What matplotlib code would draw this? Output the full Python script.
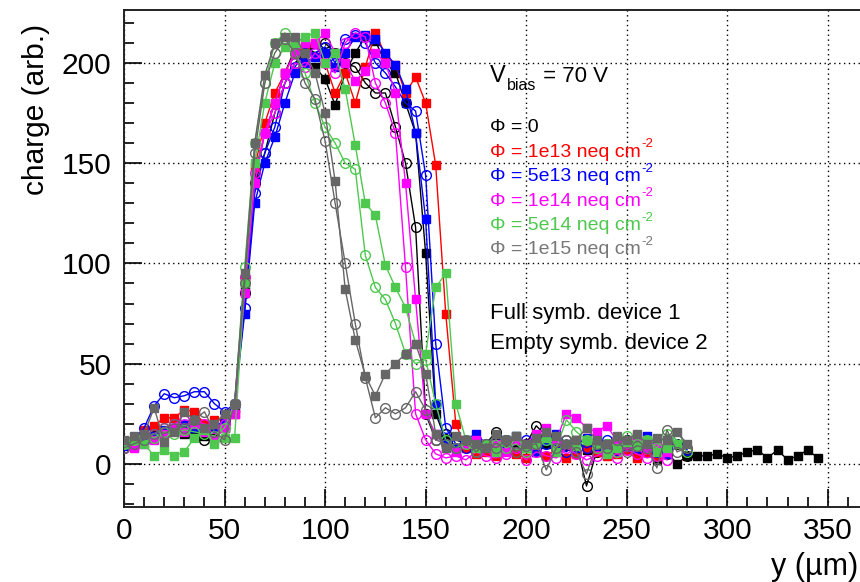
import matplotlib
matplotlib.use("Agg")
import matplotlib.pyplot as plt
from matplotlib.ticker import MultipleLocator

plt.rcParams["font.family"] = ["Liberation Sans", "DejaVu Sans"]

# scan positions along y (um)
y_pos = [0, 5, 10, 15, 20, 25, 30, 35, 40, 45, 50, 55, 60, 65, 70, 75, 80, 85, 90, 95,
         100, 105, 110, 115, 120, 125, 130, 135, 140, 145, 150, 155, 160, 165, 170, 175,
         180, 185, 190, 195, 200, 205, 210, 215, 220, 225, 230, 235, 240, 245, 250, 255,
         260, 265, 270, 275, 280, 285, 290, 295, 300, 305, 310, 315, 320, 325, 330, 335,
         340, 345]

# collected charge, device 1 (filled) and device 2 (empty)
q_0_d1 = [10, 9, 12, 14, 16, 18, 15, 17, 14, 13, 18, 28, 88, 142, 165, 180, 195, 207, 200, 198,
          192, 179, 195, 205, 213, 211, 200, 195, 180, 165, 105, 25, 12, 8, 10, 6,
          9, 12, 7, 10, 8, 14, 10, 6, 9, 12, 7, 10, 9, 8, 11, 6,
          9, 2, 6, 0, 4, 4, 4, 5, 3, 4, 6, 7, 3, 7, 2, 4, 7, 3]
q_0_d2 = [8, 10, 12, 14, 15, 17, 16, 14, 12, 15, 22, 30, 85, 140, 155, 175, 190, 200, 205, 208,
          210, 205, 200, 198, 190, 185, 185, 168, 150, 118, 25, 12, 15, 12, 10, 8,
          10, 16, 12, 8, 10, 19, 14, 8, 12, 10, -11, 6, 10, 8, 12, 9,
          6, 8, 5, 10, 4]
q_1e13_d1 = [10, 10, 17, 19, 23, 23, 27, 26, 20, 22, 22, 25, 92, 148, 170, 185, 195, 205, 208, 210,
             200, 185, 195, 180, 198, 215, 204, 199, 185, 193, 180, 149, 75, 20, 8, 5,
             6, 4, 8, 5, 3, 6, 4, 7, 3, 5, 8, 6, 4, 5, 7, 3,
             6, 4, 5]
q_5e13_d1 = [9, 10, 12, 14, 17, 18, 20, 18, 17, 18, 22, 30, 75, 130, 150, 163, 180, 195, 200, 203,
             205, 198, 205, 213, 214, 212, 205, 199, 187, 165, 122, 30, 10, 8, 12, 15,
             10, 6, 12, 14, 9, 6, 12, 15, 10, 8, 13, 9, 6, 12, 10, 8,
             14, 6, 5]
q_5e13_d2 = [10, 12, 18, 29, 35, 33, 34, 36, 36, 30, 26, 30, 78, 135, 155, 168, 190, 198, 205, 205,
             208, 200, 212, 214, 210, 200, 195, 188, 180, 176, 144, 60, 18, 10, 8, 12,
             9, 11, 7, 10, 12, 8, 10, 9, 6, 11, 8, 10, 12, 7, 9, 8,
             10, 6, 8, 12, 7]
q_1e14_d1 = [10, 8, 10, 12, 15, 18, 16, 20, 16, 12, 18, 25, 85, 140, 165, 180, 195, 205, 210, 210,
             215, 205, 200, 191, 196, 205, 200, 185, 140, 82, 25, 15, 8, 6, 10, 12,
             8, 10, 6, 12, 10, 15, 18, 12, 25, 23, 18, 16, 19, 12, 10, 14,
             8, 10, 6]
q_1e14_d2 = [8, 9, 12, 15, 18, 20, 22, 21, 20, 18, 20, 30, 93, 145, 165, 175, 190, 200, 198, 205,
             200, 195, 210, 215, 213, 190, 180, 165, 98, 25, 12, 5, 3, 4, 2, 6,
             4, 3, 5, 8, 2, 6, 4, 3, 8, 5, 2, 4, 6, 3, 7, 5,
             3, 4, 2]
q_5e14_d1 = [10, 12, 10, 4, 7, 4, 6, 13, 17, 10, 13, 13, 90, 150, 180, 200, 208, 210, 213, 215,
             200, 205, 187, 159, 130, 124, 99, 88, 78, 60, 55, 88, 95, 30, 12, 8,
             10, 6, 12, 14, 8, 10, 13, 6, 10, 9, 12, 10, 5, 8, 11, 9,
             12, 6, 8, 10]
q_5e14_d2 = [10, 12, 14, 13, 16, 15, 17, 16, 15, 14, 18, 30, 98, 160, 190, 210, 215, 205, 195, 180,
             168, 160, 150, 147, 104, 88, 82, 70, 55, 50, 52, 30, 12, 8, 10, 6,
             9, 12, 8, 10, 6, 10, 12, 8, 22, 16, 12, 8, 10, 6, 14, 10,
             12, 8, 15, 12, 6]
q_1e15_d1 = [12, 14, 15, 28, 11, 16, 26, 22, 18, 20, 25, 30, 95, 160, 194, 210, 213, 213, 205, 195,
             175, 141, 87, 62, 44, 34, 45, 50, 55, 60, 45, 15, 8, 14, 12, 10,
             8, 15, 12, 14, 10, 13, 16, 14, 10, 12, 18, 12, 10, 14, 12, 15,
             10, 13, 12, 16, 10]
q_1e15_d2 = [8, 10, 12, 15, 18, 20, 18, 22, 26, 16, 12, 30, 90, 155, 190, 205, 212, 205, 190, 182,
             161, 130, 100, 70, 43, 23, 28, 25, 28, 36, 27, 12, 10, 8, 12, 6,
             10, 8, 12, 6, 9, 10, -3, 8, 12, 6, -5, 10, 8, 12, 6, 9,
             8, -2, 17, 6, 8]

series = [
    (q_0_d1, "black", "s"), (q_0_d2, "black", "o"),
    (q_1e13_d1, "#ff0000", "s"),
    (q_5e13_d1, "#0000ff", "s"), (q_5e13_d2, "#0000ff", "o"),
    (q_1e14_d1, "#ff00ff", "s"), (q_1e14_d2, "#ff00ff", "o"),
    (q_5e14_d1, "#4fc84f", "s"), (q_5e14_d2, "#4fc84f", "o"),
    (q_1e15_d1, "#666666", "s"), (q_1e15_d2, "#666666", "o"),
]

fluence_labels = ["0", "1e13", "5e13", "1e14", "5e14", "1e15"]
fluence_colors = ["black", "#ff0000", "#0000ff", "#ff00ff", "#4fc84f", "#777777"]

W, H = 860, 582
fig = plt.figure(figsize=(W / 100, H / 100), dpi=100)
ax = fig.add_axes([124 / W, 75 / H, 738 / W, 497 / H])

for q, col, mk in series:
    xs = y_pos[:len(q)]
    if mk == "s":
        ax.plot(xs, q, color=col, lw=1.0, marker="s", ms=5.8, mfc=col, mec=col, zorder=3)
    else:
        ax.plot(xs, q, color=col, lw=1.0, marker="o", ms=7, mfc="none", mec=col, mew=1.0, zorder=3)

ax.set_xlim(0, 367)
ax.set_ylim(-21.5, 226.4)
ax.xaxis.set_major_locator(MultipleLocator(50))
ax.xaxis.set_minor_locator(MultipleLocator(10))
ax.yaxis.set_major_locator(MultipleLocator(50))
ax.yaxis.set_minor_locator(MultipleLocator(10))
ax.tick_params(which="both", direction="in", top=False, right=False, width=1.2, colors="black")
ax.tick_params(which="major", length=13, labelsize=21.5)
ax.tick_params(axis="y", which="major", pad=9)
ax.tick_params(axis="x", which="major", pad=7)
ax.tick_params(which="minor", length=7)
ax.grid(True, which="major", color="black", linestyle=(0, (1, 2.5)), lw=1.0, zorder=1)
for s in ax.spines.values():
    s.set_linewidth(1.4)
    s.set_color("#222222")

fig.text(36 / W, 1 - 24 / H, "charge (arb.)", rotation=90, ha="center", va="top", fontsize=21.5)
fig.text(858 / W, 1 - 567 / H, "y (\u00b5m)", ha="right", va="center", fontsize=22)

renderer = fig.canvas.get_renderer()


def ftxt(px, py, s, **kw):
    kw.setdefault("va", "center")
    return fig.text(px / W, 1 - py / H, s, ha="left", **kw)


def right_edge(t):
    bb = t.get_window_extent(renderer)
    return bb.x1, H - bb.y1, H - bb.y0


# bias voltage with subscript
t = ftxt(490, 76, "V", fontsize=17)
x1, top, bot = right_edge(t)
t = ftxt(x1 + 1, 86, "bias", fontsize=11.5)
x1, _, _ = right_edge(t)
ftxt(x1 + 1, 76, " = 70 V", fontsize=16)

# fluence entries with superscript units
for i, (lab, col) in enumerate(zip(fluence_labels, fluence_colors)):
    py = 128 + 24.4 * i
    if lab == "0":
        ftxt(490, py, "\u03a6 = 0", fontsize=14, color=col)
    else:
        t = ftxt(490, py, "\u03a6 = " + lab + " neq cm", fontsize=14, color=col)
        x1, _, _ = right_edge(t)
        ftxt(x1 + 1, py - 8, "-2", fontsize=9.5, color=col)

ftxt(490, 313, "Full symb. device 1", fontsize=16)
ftxt(490, 343, "Empty symb. device 2", fontsize=16)

fig.savefig("out.png", dpi=100)
